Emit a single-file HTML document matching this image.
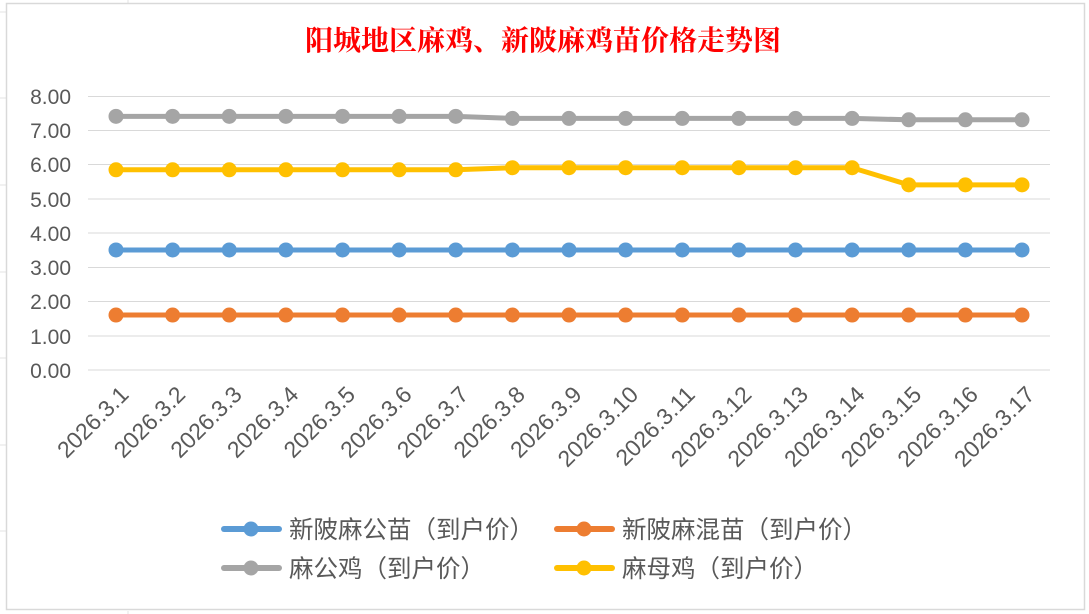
<!DOCTYPE html>
<html><head><meta charset="utf-8"><style>
html,body{margin:0;padding:0;background:#fff;}
svg{display:block;}
text{font-family:"Liberation Sans","Noto Sans CJK SC",sans-serif;}
</style></head><body>
<svg width="1089" height="614" viewBox="0 0 1089 614" xmlns="http://www.w3.org/2000/svg">
<rect x="0" y="0" width="1089" height="614" fill="#fff"/>
<g stroke="#e3e3e3" stroke-width="1">
<line x1="0" y1="12" x2="6" y2="12"/><line x1="0" y1="98" x2="6" y2="98"/><line x1="0" y1="185" x2="6" y2="185"/><line x1="0" y1="272" x2="6" y2="272"/><line x1="0" y1="358" x2="6" y2="358"/><line x1="0" y1="445" x2="6" y2="445"/><line x1="0" y1="531" x2="6" y2="531"/>
<line x1="128" y1="0" x2="128" y2="3"/><line x1="128" y1="611" x2="128" y2="614"/>
</g>
<rect x="6.5" y="3.5" width="1078" height="606" fill="#fff" stroke="#d9d9d9" stroke-width="1.5"/>
<text x="543" y="50" text-anchor="middle" font-size="28" fill="#ff0000" style="font-family:'Liberation Serif','Noto Serif CJK SC',serif;font-weight:bold">阳城地区麻鸡、新陂麻鸡苗价格走势图</text>
<g stroke="#d9d9d9" stroke-width="1">
<line x1="88" y1="96.5" x2="1050" y2="96.5"/><line x1="88" y1="130.5" x2="1050" y2="130.5"/><line x1="88" y1="164.5" x2="1050" y2="164.5"/><line x1="88" y1="199" x2="1050" y2="199"/><line x1="88" y1="233" x2="1050" y2="233"/><line x1="88" y1="267.5" x2="1050" y2="267.5"/><line x1="88" y1="301.5" x2="1050" y2="301.5"/><line x1="88" y1="336" x2="1050" y2="336"/><line x1="88" y1="370" x2="1050" y2="370"/>
</g>
<g font-size="21" fill="#595959" text-anchor="end">
<text x="71" y="104">8.00</text><text x="71" y="138">7.00</text><text x="71" y="172">6.00</text><text x="71" y="207">5.00</text><text x="71" y="241">4.00</text><text x="71" y="275">3.00</text><text x="71" y="309">2.00</text><text x="71" y="344">1.00</text><text x="71" y="378">0.00</text>
</g>
<g font-size="23" fill="#595959" text-anchor="end" id="xl"></g>
<g id="series"></g>
<g font-size="24.5" fill="#595959">
<line x1="224" y1="529" x2="279" y2="529" stroke="#5b9bd5" stroke-width="6" stroke-linecap="round"/><circle cx="251" cy="529" r="7.5" fill="#5b9bd5"/>
<text x="289" y="538">新陂麻公苗（到户价）</text>
<line x1="557" y1="529" x2="612" y2="529" stroke="#ed7d31" stroke-width="6" stroke-linecap="round"/><circle cx="584" cy="529" r="7.5" fill="#ed7d31"/>
<text x="622" y="538">新陂麻混苗（到户价）</text>
<line x1="224" y1="568" x2="279" y2="568" stroke="#a5a5a5" stroke-width="6" stroke-linecap="round"/><circle cx="251" cy="568" r="7.5" fill="#a5a5a5"/>
<text x="289" y="577">麻公鸡（到户价）</text>
<line x1="557" y1="568" x2="612" y2="568" stroke="#ffc000" stroke-width="6" stroke-linecap="round"/><circle cx="584" cy="568" r="7.5" fill="#ffc000"/>
<text x="622" y="577">麻母鸡（到户价）</text>
</g>
</svg>
<script>
var ns="http://www.w3.org/2000/svg";
function y(v){return 370.5-34.25*v;}
function x(i){return 116+i*56.625;}
var data=[
["#5b9bd5",Array(17).fill(3.52)],
["#ed7d31",Array(17).fill(1.62)],
["#a5a5a5",[7.42,7.42,7.42,7.42,7.42,7.42,7.42,7.36,7.36,7.36,7.36,7.36,7.36,7.36,7.32,7.32,7.32]],
["#ffc000",[5.86,5.86,5.86,5.86,5.86,5.86,5.86,5.92,5.92,5.92,5.92,5.92,5.92,5.92,5.42,5.42,5.42]]
];
var g=document.getElementById("series");
data.forEach(function(s){
 var p=document.createElementNS(ns,"polyline");
 p.setAttribute("points",s[1].map(function(v,i){return x(i)+","+y(v);}).join(" "));
 p.setAttribute("fill","none");p.setAttribute("stroke",s[0]);p.setAttribute("stroke-width","5");p.setAttribute("stroke-linejoin","round");
 g.appendChild(p);
 s[1].forEach(function(v,i){var c=document.createElementNS(ns,"circle");c.setAttribute("cx",x(i));c.setAttribute("cy",y(v));c.setAttribute("r","7.5");c.setAttribute("fill",s[0]);g.appendChild(c);});
});
var xl=document.getElementById("xl");
for(var i=0;i<17;i++){var t=document.createElementNS(ns,"text");var ax=x(i)+14,ay=396;
 t.setAttribute("x",ax);t.setAttribute("y",ay);t.setAttribute("transform","rotate(-45 "+ax+" "+ay+")");t.textContent="2026.3."+(i+1);xl.appendChild(t);}
</script>
</body></html>
